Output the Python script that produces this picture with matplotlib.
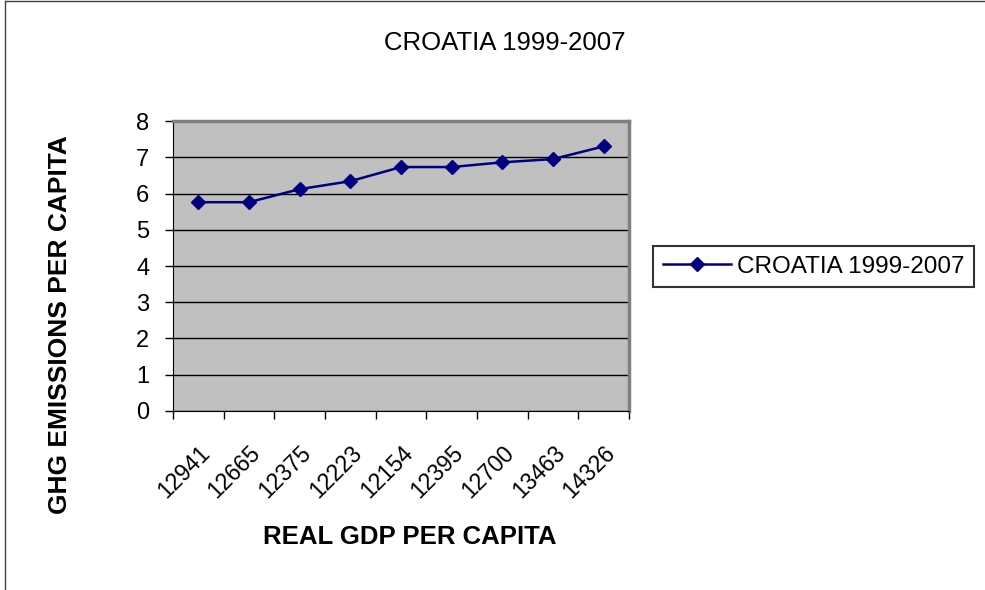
import matplotlib.pyplot as plt
from matplotlib.lines import Line2D

plt.rcParams['font.family'] = ['Liberation Sans', 'DejaVu Sans']

gdp_labels = ['12941', '12665', '12375', '12223', '12154', '12395', '12700', '13463', '14326']
ghg = [5.76, 5.76, 6.12, 6.34, 6.73, 6.73, 6.86, 6.95, 7.30]

fig = plt.figure(figsize=(9.85, 5.9), dpi=100)
ax = fig.add_axes([0.1756, 0.3034, 0.463, 0.4915])
ax.set_facecolor('#C0C0C0')

x = list(range(len(ghg)))
ax.plot(x, ghg, color='#000080', marker='D', markersize=7, linewidth=1.8,
        label='CROATIA 1999-2007')

ax.set_xlim(-0.5, len(ghg) - 0.5)
ax.set_ylim(0, 8)
ax.set_yticks(range(0, 9))
ax.yaxis.grid(True, color='black', linewidth=1)
ax.set_axisbelow(True)

ax.set_xticks(x)
ax.set_xticklabels(gdp_labels, rotation=45, ha='right', rotation_mode='anchor')
ax.set_xticks([i - 0.5 for i in range(len(ghg) + 1)], minor=True)
ax.tick_params(axis='x', which='major', length=0, pad=22, labelsize=16.5)
ax.tick_params(axis='x', which='minor', length=6, width=1, color='black')
ax.tick_params(axis='y', length=6, width=1, labelsize=17, pad=11)

for side in ['top', 'right']:
    ax.spines[side].set_color('#808080')
    ax.spines[side].set_linewidth(2.5)
ax.spines['left'].set_color('black')
ax.spines['bottom'].set_color('black')

fig.text(410 / 985, 1 - 537 / 590, 'REAL GDP PER CAPITA', ha='center', va='center',
         fontsize=18.5, fontweight='bold')
fig.text(60 / 985, 1 - 325 / 590, 'GHG EMISSIONS PER CAPITA', ha='center', va='center',
         rotation=90, fontsize=19, fontweight='bold')

fig.text(505 / 985, 1 - 43 / 590, 'CROATIA 1999-2007', ha='center', va='center', fontsize=18.5)

leg = fig.legend(loc='center left', bbox_to_anchor=(0.663, 0.548), fontsize=17.5,
                 frameon=True, fancybox=False, edgecolor='black', handlelength=2.8,
                 handletextpad=0.25, borderpad=0.4, borderaxespad=0)
leg.get_frame().set_linewidth(1.5)

# outer frame: top and left edges only
fig.add_artist(Line2D([0.005, 1], [0.999, 0.999], transform=fig.transFigure,
                      color='#404040', linewidth=1))
fig.add_artist(Line2D([0.005, 0.005], [0, 0.999], transform=fig.transFigure,
                      color='#404040', linewidth=1))

fig.savefig('out.png', dpi=100)
